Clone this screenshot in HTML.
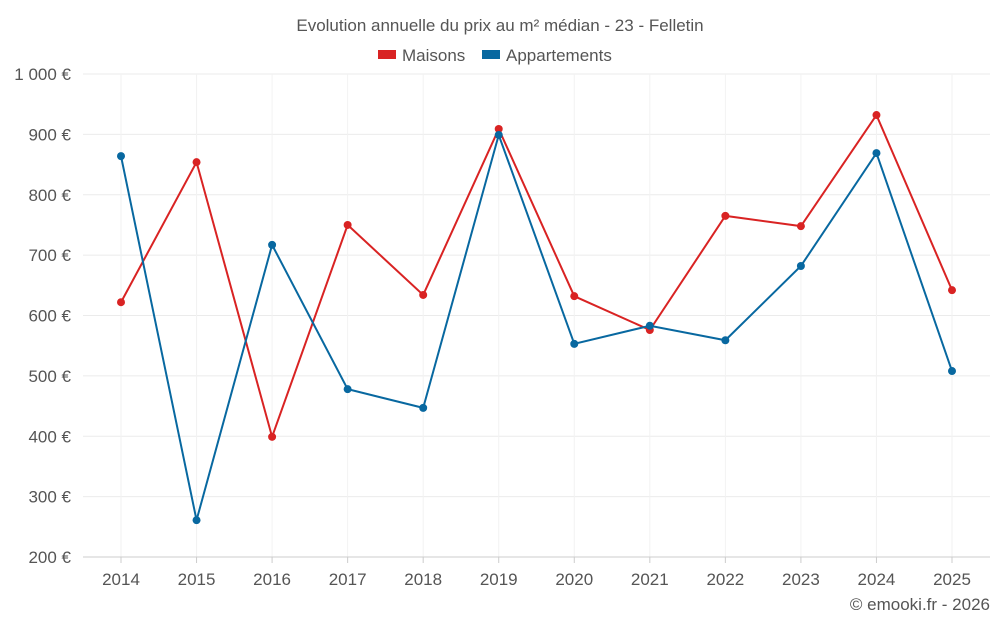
<!DOCTYPE html>
<html><head><meta charset="utf-8"><style>
body{margin:0;background:#fff;font-family:"Liberation Sans",sans-serif}
svg text{font-family:"Liberation Sans",sans-serif;fill:#555}
</style></head><body>
<svg id="chart" width="1000" height="625">
<text x="500" y="31" text-anchor="middle" font-size="17">Evolution annuelle du prix au m² médian - 23 - Felletin</text>
<g>
<rect x="378" y="50" width="18" height="9" fill="#d92323"/>
<text x="402" y="61" font-size="17">Maisons</text>
<rect x="482" y="50" width="18" height="9" fill="#0868a0"/>
<text x="506" y="61" font-size="17">Appartements</text>
</g>
<g id="grid"></g><g id="axes"></g><g id="series"></g>
<text x="990" y="610" text-anchor="end" font-size="17">© emooki.fr - 2026</text>
</svg>
<script>
const years=[2014,2015,2016,2017,2018,2019,2020,2021,2022,2023,2024,2025];
const maisons=[622,854,399,750,634,909,632,576,765,748,932,642];
const appartements=[864,261,717,478,447,899,553,583,559,682,869,508];
const yTicks=[200,300,400,500,600,700,800,900,1000];
const yLabels=["200 €","300 €","400 €","500 €","600 €","700 €","800 €","900 €","1 000 €"];
const NS="http://www.w3.org/2000/svg";
const L=83,R=990,T=74,B=557,yMin=200,yMax=1000;
const x=i=>121+i*(952-121)/(years.length-1);
const y=v=>B-(v-yMin)/(yMax-yMin)*(B-T);
function mk(tag,attrs,parent){const e=document.createElementNS(NS,tag);for(const k in attrs)e.setAttribute(k,attrs[k]);document.getElementById(parent).appendChild(e);return e;}
yTicks.forEach((v,i)=>{
 const g=mk('line',{x1:L,x2:R,y1:y(v),y2:y(v),stroke:'#ebebeb'},'grid');
 
 
 const t=mk('text',{x:71,y:y(v)+6,'text-anchor':'end','font-size':'17'},'axes');
 t.textContent=yLabels[i];
 
 
});
years.forEach((yr,i)=>{
 const g=mk('line',{x1:x(i),x2:x(i),y1:T,y2:B,stroke:'#f2f2f2'},'grid');
 
 
 const k=mk('line',{x1:x(i),x2:x(i),y1:B,y2:B+6,stroke:'#ccc'},'axes');
 
 
 const t=mk('text',{x:x(i),y:585,'text-anchor':'middle','font-size':'17'},'axes');
 t.textContent=yr;
 
 
});
const ax=mk('line',{x1:L,x2:R,y1:B,y2:B,stroke:'#ccc'},'axes');


function series(vals,color,name){
 const p=mk('polyline',{points:vals.map((v,i)=>x(i)+','+y(v)).join(' '),fill:'none',stroke:color,'stroke-width':2},'series');
 
 
 vals.forEach((v,i)=>{
  const c=mk('circle',{cx:x(i),cy:y(v),r:4,fill:color},'series');
  
  
 });
}
series(maisons,'#d92323','maisons');
series(appartements,'#0868a0','appartements');
</script>
</body></html>
